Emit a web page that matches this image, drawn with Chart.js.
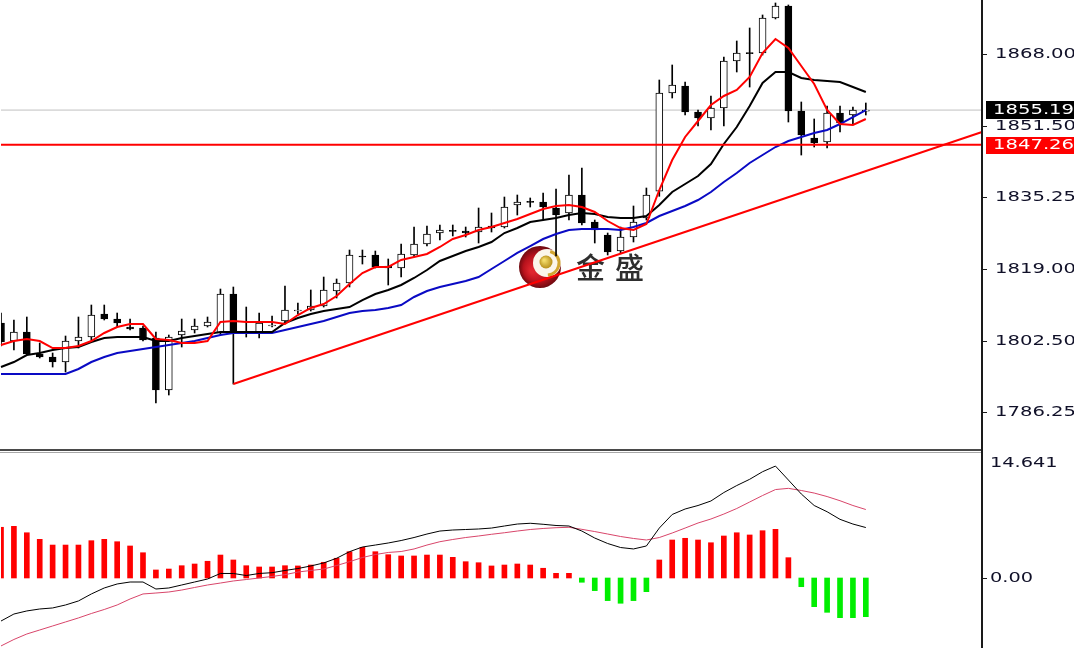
<!DOCTYPE html>
<html>
<head>
<meta charset="utf-8">
<script src="https://cdn.jsdelivr.net/npm/chart.js@4.4.1/dist/chart.umd.min.js"></script>
<style>
html,body{margin:0;padding:0;background:#fff;overflow:hidden;}
#wrap{position:relative;width:1074px;height:648px;background:#fff;}
#main{position:absolute;left:0;top:0;}
#macd{position:absolute;left:0;top:453px;}
</style>
</head>
<body>
<div id="wrap">
<canvas id="main" width="1074" height="453"></canvas>
<canvas id="macd" width="1074" height="195"></canvas>
</div>
<script>
// ---------- DATA ----------
const candleCount = 68;
const emptySlots = 9;
const categories = Array.from({length: candleCount}, (_, i) => 'K' + (i + 1))
  .concat(Array.from({length: emptySlots}, () => ''));

const opens = [
 1806.57,1802.46,1804.51,1799.49,1798.81,1797.66,1802.46,1803.37,1808.63,1807.48,
 1805.66,1805.43,1803.14,1791.27,1803.83,1804.97,1805.89,1804.29,1813.19,1804.51,
 1804.29,1805.89,1807.03,1809.31,1809.54,1810.45,1813.88,1815.70,1821.87,1822.10,
 1819.59,1819.13,1822.10,1824.61,1827.12,1827.58,1827.58,1827.35,1828.72,1828.49,
 1833.52,1834.20,1834.20,1832.83,1831.69,1835.80,1829.63,1826.67,1823.01,1826.21,
 1830.55,1836.70,1859.09,1860.69,1854.75,1853.38,1855.67,1866.40,1868.23,1868.23,
 1876.22,1878.96,1854.98,1848.82,1847.90,1854.53,1854.07,1854.95];
const highs = [
 1808.85,1807.26,1807.94,1802.00,1799.72,1803.60,1807.94,1810.68,1810.68,1808.85,
 1807.48,1805.89,1804.51,1803.83,1807.48,1807.48,1807.94,1814.33,1814.79,1810.22,
 1808.85,1808.17,1815.02,1811.14,1814.11,1817.07,1816.62,1823.24,1823.24,1823.01,
 1821.19,1824.61,1828.49,1828.72,1828.95,1828.95,1828.49,1832.83,1831.69,1835.34,
 1835.80,1835.12,1836.26,1837.17,1840.37,1841.97,1830.09,1827.12,1828.49,1833.29,
 1837.40,1862.06,1865.49,1861.60,1855.21,1858.41,1867.31,1870.97,1873.94,1876.91,
 1879.65,1879.19,1857.04,1853.16,1856.12,1856.12,1855.90,1856.81];
const lows = [
 1801.32,1800.40,1799.30,1798.58,1796.52,1795.38,1800.86,1802.69,1807.26,1805.66,
 1804.97,1802.46,1788.30,1790.13,1801.09,1804.29,1805.66,1803.83,1792.64,1803.37,
 1803.14,1805.66,1806.80,1808.63,1809.31,1810.22,1812.28,1814.79,1820.04,1819.13,
 1815.25,1817.07,1821.64,1824.15,1825.52,1826.44,1826.21,1824.84,1827.35,1828.26,
 1831.23,1833.06,1830.09,1821.87,1830.09,1828.95,1824.84,1822.10,1822.56,1825.07,
 1830.09,1835.50,1857.95,1854.07,1851.56,1850.64,1851.56,1863.89,1860.46,1867.77,
 1876.00,1852.47,1844.93,1846.76,1846.53,1850.19,1852.01,1854.07];
const closes = [
 1802.23,1804.51,1799.49,1798.81,1797.66,1802.46,1803.37,1808.40,1807.48,1806.57,
 1805.20,1802.69,1791.27,1803.37,1804.74,1805.89,1806.80,1813.19,1804.29,1804.29,
 1806.57,1806.11,1809.54,1809.54,1810.45,1814.11,1815.70,1822.10,1821.64,1819.36,
 1819.13,1822.33,1824.61,1826.89,1827.81,1827.50,1827.12,1828.49,1828.26,1833.06,
 1834.20,1834.10,1833.06,1831.23,1835.80,1829.41,1827.81,1822.78,1826.21,1829.63,
 1835.80,1859.09,1860.92,1854.75,1853.38,1855.67,1866.40,1868.23,1868.10,1876.22,
 1878.96,1854.98,1849.50,1847.68,1854.53,1852.24,1855.21,1855.19];

const maRed = [
 1801.55,1802.46,1802.92,1802.46,1800.86,1800.86,1801.32,1802.46,1804.29,1805.66,
 1806.34,1806.34,1802.92,1802.69,1802.00,1802.00,1802.46,1806.80,1807.03,1806.80,
 1806.80,1806.80,1806.34,1808.40,1810.00,1810.91,1812.74,1815.48,1817.99,1819.36,
 1819.36,1820.96,1821.64,1822.33,1823.93,1825.75,1826.67,1827.81,1828.49,1829.41,
 1830.32,1831.46,1832.60,1833.29,1833.52,1833.06,1831.92,1829.86,1828.26,1827.81,
 1829.18,1836.94,1843.79,1849.05,1852.70,1856.35,1858.41,1859.78,1862.75,1868.23,
 1871.42,1869.37,1865.26,1861.15,1855.21,1852.01,1851.79,1853.16];
const maBlack = [
 1796.52,1797.66,1799.26,1799.72,1800.40,1800.86,1801.09,1802.23,1803.14,1803.37,
 1803.37,1803.37,1802.46,1802.46,1803.14,1803.60,1804.06,1804.51,1804.51,1804.51,
 1804.51,1804.51,1806.57,1807.71,1808.63,1809.31,1809.77,1810.22,1811.82,1813.19,
 1814.11,1815.25,1816.85,1818.67,1820.73,1821.87,1823.01,1823.93,1825.07,1827.12,
 1828.26,1829.63,1830.09,1830.55,1831.23,1831.69,1831.46,1830.78,1830.55,1830.55,
 1831.00,1833.52,1836.49,1838.31,1840.14,1842.88,1847.45,1851.33,1856.12,1861.38,
 1863.89,1863.89,1862.52,1862.06,1861.83,1861.60,1860.46,1859.32];
const maBlue = [
 1794.92,1794.92,1794.92,1794.92,1794.92,1794.92,1796.07,1797.66,1798.81,1799.72,
 1800.18,1800.63,1801.09,1801.55,1802.00,1802.46,1803.14,1803.83,1804.29,1804.29,
 1804.29,1804.29,1804.97,1805.66,1806.34,1807.03,1807.94,1808.85,1809.31,1809.54,
 1810.00,1810.68,1812.51,1813.88,1814.79,1815.48,1816.16,1817.07,1818.90,1820.73,
 1822.56,1824.15,1825.75,1826.89,1827.81,1828.04,1828.04,1828.04,1827.81,1828.49,
 1829.41,1831.00,1832.15,1833.29,1834.66,1836.49,1838.77,1840.82,1843.11,1844.93,
 1846.76,1848.13,1849.05,1849.96,1850.64,1852.01,1853.61,1855.21];

const trendStartIndex = 18, trendStartValue = 1792.64;
const trendEndIndex = 76, trendEndValue = 1850.20;
const resistanceValue = 1847.26, resistanceLabel = '1847.26';
const lastPriceValue = 1855.19, lastPriceLabel = '1855.19';

const priceTickValues = [1868.00, 1851.50, 1835.25, 1819.00, 1802.50, 1786.25];
const priceTickLabels = ['1868.00', '1851.50', '1835.25', '1819.00', '1802.50', '1786.25'];
const priceMin = 1777.80, priceMax = 1880.33;

const macdHist = [
 5.94,6.05,5.30,4.53,3.86,3.86,3.86,4.37,4.53,4.25,
 3.75,2.96,0.94,1.05,1.44,1.64,1.96,2.69,2.11,1.44,
 1.29,1.29,1.44,1.41,1.52,1.84,2.31,3.08,3.59,3.08,
 2.73,2.58,2.58,2.69,2.69,2.42,1.91,1.79,1.41,1.52,
 1.64,1.52,1.14,0.55,0.55,-0.50,-1.48,-2.65,-2.96,-2.65,
 -1.60,2.11,4.45,4.65,4.45,4.13,4.92,5.30,5.04,5.54,
 5.70,2.38,-1.02,-3.36,-4.02,-4.65,-4.65,-4.53];
const macdLine = [
 -5.04,-4.22,-3.86,-3.63,-3.51,-3.16,-2.69,-1.87,-1.17,-0.70,
 -0.47,-0.47,-1.29,-1.17,-0.82,-0.47,-0.12,0.53,0.53,0.29,
 0.53,0.62,0.88,1.11,1.41,1.76,2.31,3.08,3.63,3.86,
 4.10,4.39,4.74,5.15,5.50,5.62,5.68,5.74,5.85,6.09,
 6.32,6.41,6.29,6.15,6.09,5.50,4.68,4.04,3.57,3.40,
 3.75,5.85,7.44,8.08,8.49,9.02,10.01,10.83,11.56,12.45,
 13.11,11.48,9.84,8.49,7.76,6.87,6.32,5.91];
const signalLine = [
 -7.96,-7.20,-6.56,-6.09,-5.62,-5.15,-4.68,-4.16,-3.69,-3.16,
 -2.46,-1.87,-1.76,-1.64,-1.41,-1.11,-0.82,-0.59,-0.35,-0.18,
 0.00,0.18,0.39,0.70,0.88,1.05,1.46,1.91,2.40,2.75,
 2.99,3.10,3.40,3.86,4.25,4.51,4.74,4.92,5.12,5.30,
 5.50,5.68,5.80,5.89,5.94,5.70,5.44,5.15,4.86,4.63,
 4.45,4.74,5.27,5.85,6.44,6.91,7.49,8.14,8.90,9.66,
 10.36,10.50,10.25,9.95,9.54,9.05,8.49,8.02];
const macdTickValues = [14.641, 0];
const macdTickLabels = ['14.641', '0.00'];
const macdMin = -8.2, macdMax = 14.641;

const watermarkText = '金盛';

// ---------- BUILD ----------
const N = categories.length;
const lastIdx = N - 1;
const levelSeries = (a, va, b, vb) => categories.map((_, i) => i === a ? va : (i === b ? vb : null));

const wickData = opens.map((_, i) => [lows[i], highs[i]]);
const bodyData = opens.map((o, i) => [o, closes[i]]);
const bodyFill = opens.map((o, i) => closes[i] >= o ? '#ffffff' : '#000000');

const AXIS_TEXT = '#101028';
function stretchedText(ctx, text, x, y, color, font, sx) {
  ctx.save();
  ctx.font = font;
  ctx.fillStyle = color;
  ctx.textBaseline = 'middle';
  ctx.textAlign = 'left';
  ctx.translate(x, y);
  ctx.scale(sx, 1);
  ctx.fillText(text, 0, 0);
  ctx.restore();
}

const mainDecor = {
  id: 'mainDecor',
  beforeDatasetsDraw(chart) {
    const ctx = chart.ctx;
    // watermark logo
    const cx = 540, cy = 267, r = 21;
    ctx.save();
    let g = ctx.createRadialGradient(cx - 8, cy + 4, 2, cx, cy, r);
    g.addColorStop(0, '#e0262e');
    g.addColorStop(0.6, '#b8121c');
    g.addColorStop(1, '#6e0a10');
    ctx.fillStyle = g;
    ctx.beginPath(); ctx.arc(cx, cy, r, 0, Math.PI * 2); ctx.fill();
    ctx.fillStyle = '#fbf6ea';
    ctx.beginPath(); ctx.arc(cx + 7, cy - 4, 14, 0, Math.PI * 2); ctx.fill();
    ctx.strokeStyle = '#d2a630'; ctx.lineWidth = 3;
    ctx.beginPath(); ctx.arc(cx + 7, cy - 4, 12, -1.3, 1.5); ctx.stroke();
    let g2 = ctx.createRadialGradient(cx + 4, cy - 7, 1, cx + 6, cy - 5, 7);
    g2.addColorStop(0, '#f3dc6a'); g2.addColorStop(1, '#b48a14');
    ctx.fillStyle = g2;
    ctx.beginPath(); ctx.arc(cx + 6, cy - 5, 6.5, 0, Math.PI * 2); ctx.fill();
    ctx.font = '500 29px "Noto Sans CJK SC"';
    ctx.fillStyle = '#2e2e2e';
    ctx.textBaseline = 'middle';
    try { ctx.letterSpacing = '10px'; } catch (e) {}
    ctx.fillText(watermarkText, 576, 268);
    ctx.restore();
  },
  afterDraw(chart) {
    const ctx = chart.ctx;
    const y = chart.scales.y;
    const area = chart.chartArea;
    ctx.save();
    // pane separator
    ctx.fillStyle = '#4a4a4a';
    ctx.fillRect(0, 449, 983, 2);
    ctx.fillStyle = '#a8a8a8';
    ctx.fillRect(0, 452, 983, 1);
    // axis line
    ctx.fillStyle = '#1a1a1a';
    ctx.fillRect(area.right - 1, 0, 2, 453);
    const font = '14px "DejaVu Sans"';
    priceTickValues.forEach((v, k) => {
      const py = Math.round(y.getPixelForValue(v)) + 0.5;
      ctx.strokeStyle = '#1a1a1a'; ctx.lineWidth = 1;
      ctx.beginPath(); ctx.moveTo(area.right, py); ctx.lineTo(area.right + 5, py); ctx.stroke();
      stretchedText(ctx, priceTickLabels[k], 995, py, AXIS_TEXT, font, 1.4);
    });
    // last price box
    let py = y.getPixelForValue(lastPriceValue);
    ctx.fillStyle = '#000';
    ctx.fillRect(986, Math.round(py) - 9, 88, 18);
    stretchedText(ctx, lastPriceLabel, 993, py, '#ffffff', font, 1.4);
    // resistance box
    py = y.getPixelForValue(resistanceValue);
    ctx.fillStyle = '#ff0000';
    ctx.fillRect(986, Math.round(py) - 8, 88, 17);
    stretchedText(ctx, resistanceLabel, 993, py + 0.5, '#ffffff', font, 1.4);
    ctx.restore();
  }
};

new Chart(document.getElementById('main'), {
  data: {
    labels: categories,
    datasets: [
      {type: 'line', label: 'MA fast', data: maRed, borderColor: '#ff0000', borderWidth: 2, pointRadius: 0, tension: 0, order: 0},
      {type: 'line', label: 'Trend', data: levelSeries(trendStartIndex, trendStartValue, trendEndIndex, trendEndValue), spanGaps: true, borderColor: '#ff0000', borderWidth: 2, pointRadius: 0, order: 0},
      {type: 'line', label: 'Level', data: levelSeries(0, resistanceValue, lastIdx, resistanceValue), spanGaps: true, borderColor: '#ff0000', borderWidth: 2, pointRadius: 0, order: 0},
      {type: 'line', label: 'MA mid', data: maBlack, borderColor: '#000000', borderWidth: 2, pointRadius: 0, tension: 0, order: 0},
      {type: 'line', label: 'MA slow', data: maBlue, borderColor: '#0a0ac4', borderWidth: 2, pointRadius: 0, tension: 0, order: 0},
      {type: 'bar', label: 'Body', data: bodyData, backgroundColor: bodyFill, borderColor: '#000', borderWidth: 1, borderSkipped: false, barThickness: 7, minBarLength: 1, grouped: false, order: 1},
      {type: 'bar', label: 'Wick', data: wickData, backgroundColor: '#000', borderWidth: 0, barThickness: 1, grouped: false, order: 2},
      {type: 'line', label: 'Bid', data: levelSeries(0, lastPriceValue, lastIdx, lastPriceValue), spanGaps: true, borderColor: '#c0c0c0', borderWidth: 1, pointRadius: 0, order: 3}
    ]
  },
  options: {
    responsive: false,
    animation: false,
    layout: {padding: {left: 1, right: 0, top: 0, bottom: 4}},
    plugins: {legend: {display: false}, tooltip: {enabled: false}},
    scales: {
      x: {type: 'category', offset: false, display: false, grid: {offset: false}},
      y: {
        position: 'right', min: priceMin, max: priceMax,
        grid: {display: false}, border: {display: false},
        ticks: {display: false},
        afterBuildTicks: s => { s.ticks = priceTickValues.map(v => ({value: v})); },
        afterFit: s => { s.width = 92; }
      }
    }
  },
  plugins: [mainDecor]
});

const macdDecor = {
  id: 'macdDecor',
  afterDraw(chart) {
    const ctx = chart.ctx;
    const y = chart.scales.y;
    const area = chart.chartArea;
    ctx.save();
    ctx.fillStyle = '#1a1a1a';
    ctx.fillRect(area.right - 1, 0, 2, 195);
    const font = '14px "DejaVu Sans"';
    macdTickValues.forEach((v, k) => {
      let py = y.getPixelForValue(v);
      if (py < area.top + 10) py = area.top + 10;
      if (v === 0) {
        ctx.strokeStyle = '#1a1a1a'; ctx.lineWidth = 1;
        ctx.beginPath(); ctx.moveTo(area.right, Math.round(py) + 0.5); ctx.lineTo(area.right + 5, Math.round(py) + 0.5); ctx.stroke();
      }
      stretchedText(ctx, macdTickLabels[k], 990, py, AXIS_TEXT, font, 1.38);
    });
    ctx.restore();
  }
};

new Chart(document.getElementById('macd'), {
  data: {
    labels: categories,
    datasets: [
      {type: 'line', label: 'MACD', data: macdLine, borderColor: '#000000', borderWidth: 1, pointRadius: 0, tension: 0, order: 0},
      {type: 'line', label: 'Signal', data: signalLine, borderColor: '#d8456a', borderWidth: 1, pointRadius: 0, tension: 0, order: 0},
      {type: 'bar', label: 'Histogram', data: macdHist, backgroundColor: macdHist.map(v => v >= 0 ? '#ff0000' : '#00ee00'), borderWidth: 0, barThickness: 5, grouped: false, order: 1}
    ]
  },
  options: {
    responsive: false,
    animation: false,
    layout: {padding: {left: 1, right: 0, top: 0, bottom: 0}},
    plugins: {legend: {display: false}, tooltip: {enabled: false}},
    scales: {
      x: {type: 'category', offset: false, display: false, grid: {offset: false}},
      y: {
        position: 'right', min: macdMin, max: macdMax,
        grid: {display: false}, border: {display: false},
        ticks: {display: false},
        afterBuildTicks: s => { s.ticks = macdTickValues.map(v => ({value: v})); },
        afterFit: s => { s.width = 92; }
      }
    }
  },
  plugins: [macdDecor]
});
</script>
</body>
</html>
